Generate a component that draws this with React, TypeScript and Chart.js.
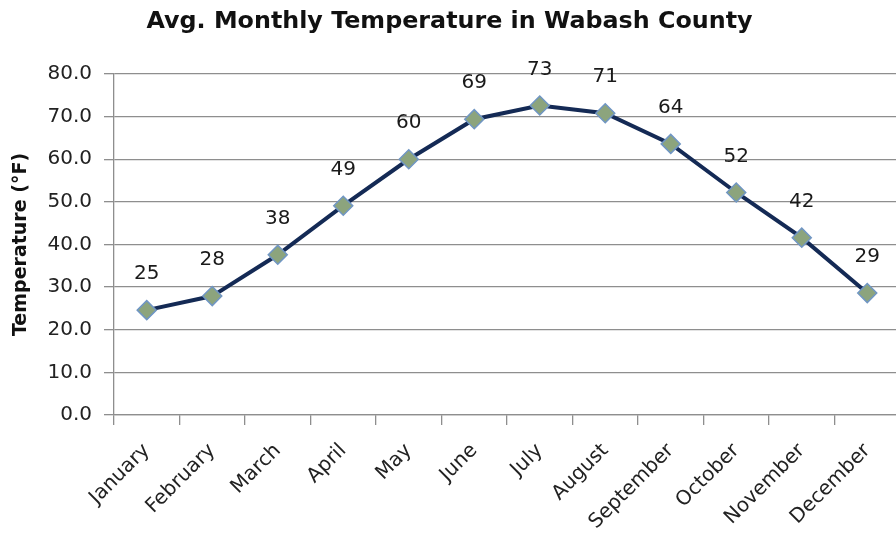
import React, { useEffect, useRef } from "react";
import { Chart, registerables } from "chart.js";

Chart.register(...registerables);

const months = [
  "January", "February", "March", "April", "May", "June",
  "July", "August", "September", "October", "November", "December",
];
const temps = [24.6, 27.9, 37.6, 49.1, 60.0, 69.4, 72.6, 70.8, 63.6, 52.2, 41.6, 28.6];
const titleText = "Avg. Monthly Temperature in Wabash County";
const yTitle = "Temperature (°F)";
const yMin = 0;
const yMax = 80;
const yStep = 10;

const FONT = "'DejaVu Sans', sans-serif";
const GRID = "#8e8e8e";

const dataLabels = {
  id: "dataLabels",
  afterDatasetsDraw(chart: any) {
    const ctx = chart.ctx;
    const meta = chart.getDatasetMeta(0);
    ctx.save();
    ctx.font = `20px ${FONT}`;
    ctx.fillStyle = "#1a1a1a";
    ctx.textAlign = "center";
    ctx.textBaseline = "middle";
    meta.data.forEach((pt: any, i: number) => {
      const v = chart.data.datasets[0].data[i] as number;
      ctx.fillText(String(Math.round(v)), pt.x, pt.y - 36);
    });
    ctx.restore();
  },
};

const titlePlugin = {
  id: "customTitle",
  afterDraw(chart: any) {
    const ctx = chart.ctx;
    ctx.save();
    ctx.font = `bold 23.8px ${FONT}`;
    ctx.fillStyle = "#111";
    ctx.textAlign = "center";
    ctx.textBaseline = "middle";
    ctx.fillText(titleText, 449.5, 22);
    ctx.restore();
  },
};

export default function App() {
  const ref = useRef<HTMLCanvasElement | null>(null);
  useEffect(() => {
    if (!ref.current) return;
    const chart = new Chart(ref.current, {
      type: "line",
      data: {
        labels: months,
        datasets: [
          {
            data: temps,
            borderColor: "#142a55",
            borderWidth: 4,
            tension: 0,
            pointStyle: "rectRot",
            pointRadius: 9.5,
            pointBackgroundColor: "#8ca47d",
            pointBorderColor: "#7096c4",
            pointBorderWidth: 1.5,
          },
        ],
      },
      options: {
        responsive: false,
        animation: false,
        layout: { padding: { left: 10, right: 0, top: 74, bottom: 0 } },
        plugins: {
          legend: { display: false },
          tooltip: { enabled: false },
          title: { display: false },
        },
        scales: {
          x: {
            offset: true,
            grid: {
              display: true,
              drawOnChartArea: false,
              drawTicks: true,
              tickLength: 10,
              offset: true,
              color: GRID,
              lineWidth: 1.3,
            },
            border: { display: true, color: GRID, width: 1.3 },
            ticks: {
              autoSkip: false,
              minRotation: 45,
              maxRotation: 45,
              color: "#222",
              font: { family: FONT, size: 20 },
              padding: 14,
            },
            afterFit(scale: any) {
              scale.height = 120;
              scale.paddingLeft = 0;
              scale.paddingRight = 0;
            },
          },
          y: {
            min: yMin,
            max: yMax,
            grid: { color: GRID, tickLength: 10, lineWidth: 1.3 },
            border: { display: true, color: GRID, width: 1.3 },
            ticks: {
              stepSize: yStep,
              color: "#222",
              font: { family: FONT, size: 20 },
              padding: 12,
              callback: (v: any) => Number(v).toFixed(1),
            },
            title: {
              display: true,
              text: yTitle,
              color: "#111",
              font: { family: FONT, size: 19, weight: "bold" },
              padding: { top: 0, bottom: 4 },
            },
            afterFit(scale: any) {
              scale.width = 104;
              scale.paddingTop = 0;
              scale.paddingBottom = 0;
            },
          },
        },
      },
      plugins: [dataLabels, titlePlugin],
    });
    return () => chart.destroy();
  }, []);
  return (
    <div
      style={{
        position: "fixed",
        left: 0,
        top: 0,
        width: 896,
        height: 535,
        overflow: "hidden",
        background: "#fff",
      }}
    >
      <canvas ref={ref} width={911} height={535} />
    </div>
  );
}
